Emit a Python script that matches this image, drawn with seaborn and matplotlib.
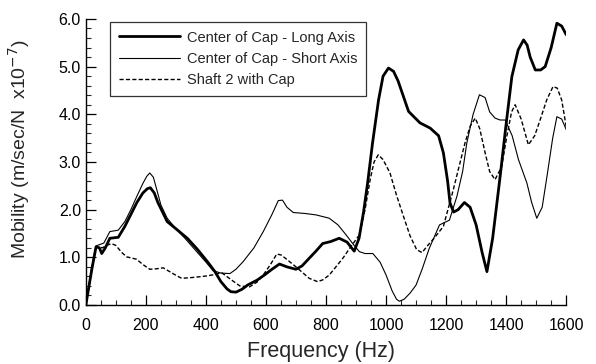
import matplotlib
matplotlib.use("Agg")
import matplotlib.pyplot as plt
import seaborn as sns
import numpy as np
from matplotlib.ticker import MultipleLocator

# Center of Cap - Long Axis
long_hz = [0, 20, 34, 45, 53, 65, 80, 108, 130, 150, 170, 190, 205, 215, 228, 240, 271, 300,
           338, 370, 405, 430, 450, 470, 483, 500, 520, 539, 570, 595, 620, 645, 670, 700,
           720, 744, 765, 789, 815, 844, 870, 885, 894, 910, 925, 939, 955, 975, 990, 1008,
           1025, 1040, 1075, 1113, 1147, 1175, 1191, 1205, 1213, 1225, 1240, 1261, 1280,
           1300, 1320, 1336, 1355, 1380, 1400, 1419, 1440, 1458, 1470, 1480, 1497, 1515,
           1530, 1550, 1569, 1585, 1600]
long_val = [0.0, 0.75, 1.22, 1.20, 1.08, 1.20, 1.40, 1.42, 1.65, 1.90, 2.15, 2.35, 2.44, 2.46,
            2.35, 2.15, 1.75, 1.60, 1.40, 1.18, 0.91, 0.70, 0.49, 0.34, 0.28, 0.27, 0.33, 0.42,
            0.52, 0.63, 0.75, 0.86, 0.80, 0.75, 0.82, 0.98, 1.12, 1.29, 1.33, 1.40, 1.32, 1.20,
            1.13, 1.40, 1.95, 2.58, 3.40, 4.30, 4.80, 4.97, 4.90, 4.70, 4.06, 3.82, 3.71,
            3.55, 3.19, 2.60, 2.14, 1.95, 2.00, 2.15, 2.05, 1.68, 1.10, 0.70, 1.40, 2.70,
            3.80, 4.79, 5.35, 5.56, 5.45, 5.20, 4.93, 4.93, 5.00, 5.40, 5.91, 5.85, 5.67]

# Center of Cap - Short Axis
short_hz = [0, 20, 34, 60, 80, 108, 130, 150, 170, 190, 203, 213, 225, 235, 250, 271, 300,
            330, 365, 400, 424, 450, 480, 500, 524, 560, 591, 620, 641, 655, 670, 691, 730,
            767, 811, 840, 867, 890, 911, 930, 956, 980, 1000, 1020, 1035, 1044, 1060, 1080,
            1100, 1120, 1144, 1178, 1211, 1236, 1255, 1269, 1290, 1311, 1330, 1345, 1363,
            1380, 1397, 1420, 1441, 1469, 1485, 1502, 1520, 1536, 1555, 1569, 1585, 1600]
short_val = [0.0, 0.80, 1.24, 1.30, 1.54, 1.57, 1.75, 2.00, 2.28, 2.55, 2.70, 2.77, 2.68, 2.45,
             2.10, 1.82, 1.60, 1.40, 1.15, 0.90, 0.72, 0.67, 0.66, 0.75, 0.91, 1.20, 1.54,
             1.90, 2.19, 2.20, 2.05, 1.94, 1.92, 1.89, 1.82, 1.68, 1.47, 1.28, 1.12, 1.08,
             1.08, 0.90, 0.63, 0.30, 0.12, 0.08, 0.12, 0.25, 0.42, 0.75, 1.19, 1.68, 1.78,
             2.28, 2.80, 3.40, 4.00, 4.41, 4.35, 4.05, 3.92, 3.88, 3.88, 3.55, 3.05, 2.56,
             2.15, 1.82, 2.05, 2.70, 3.50, 3.95, 3.90, 3.68]

# Shaft 2 with Cap
shaft_hz = [0, 20, 34, 55, 70, 85, 100, 120, 136, 150, 169, 190, 213, 235, 258, 290, 319,
            360, 402, 430, 452, 480, 513, 545, 570, 591, 615, 636, 650, 665, 700, 744, 772,
            790, 811, 856, 880, 911, 930, 947, 960, 974, 990, 1013, 1035, 1058, 1080, 1102,
            1120, 1136, 1160, 1191, 1224, 1245, 1263, 1280, 1297, 1312, 1330, 1345, 1363,
            1385, 1402, 1418, 1430, 1450, 1474, 1495, 1513, 1535, 1556, 1570, 1585, 1600]
shaft_val = [0.0, 0.75, 1.22, 1.20, 1.25, 1.29, 1.25, 1.10, 1.01, 0.99, 0.96, 0.85, 0.75, 0.76,
             0.78, 0.66, 0.56, 0.58, 0.61, 0.64, 0.68, 0.55, 0.40, 0.38, 0.48, 0.63, 0.85,
             1.07, 1.05, 0.98, 0.80, 0.56, 0.49, 0.53, 0.63, 0.98, 1.20, 1.47, 2.00, 2.63,
             3.00, 3.15, 3.05, 2.77, 2.30, 1.86, 1.45, 1.16, 1.10, 1.23, 1.40, 1.65, 2.42,
             2.95, 3.40, 3.75, 3.92, 3.70, 3.19, 2.80, 2.63, 2.90, 3.53, 4.05, 4.20, 3.90,
             3.36, 3.55, 3.88, 4.30, 4.58, 4.55, 4.30, 3.74]

x_ticks = [0, 200, 400, 600, 800, 1000, 1200, 1400, 1600]
y_ticks = [0.0, 1.0, 2.0, 3.0, 4.0, 5.0, 6.0]

sns.set_style("ticks")
plt.rcParams['font.family'] = ['Liberation Sans', 'DejaVu Sans']

fig = plt.figure(figsize=(5.96, 3.64), dpi=100)
ax = fig.add_axes([0.144, 0.162, 0.806, 0.786])

sns.lineplot(x=long_hz, y=long_val, ax=ax, color='black', linewidth=2.0,
             label='Center of Cap - Long Axis')
sns.lineplot(x=short_hz, y=short_val, ax=ax, color='black', linewidth=0.8,
             label='Center of Cap - Short Axis')
sns.lineplot(x=shaft_hz, y=shaft_val, ax=ax, color='black', linewidth=1.0,
             linestyle=(0, (3, 1.6)), label='Shaft 2 with Cap')

ax.set_xlim(0, 1600)
ax.set_ylim(0, 6.0)
ax.set_xticks(x_ticks)
ax.set_yticks(y_ticks)
ax.set_yticklabels([f"{v:.1f}" for v in y_ticks])
ax.xaxis.set_minor_locator(MultipleLocator(50))
ax.yaxis.set_minor_locator(MultipleLocator(0.2))
ax.tick_params(axis='both', which='major', direction='in', length=7, width=0.9,
               labelsize=11.5, colors='black')
ax.tick_params(axis='x', which='major', pad=9)
ax.tick_params(axis='both', which='minor', direction='in', length=3.5, width=0.8)
for s in ['top', 'right']:
    ax.spines[s].set_visible(False)
for s in ['left', 'bottom']:
    ax.spines[s].set_linewidth(1.0)
    ax.spines[s].set_color('black')

ax.set_xlabel('Frequency (Hz)', fontsize=15.5)
ax.set_ylabel('Mobility (m/sec/N  x10$^{-7}$)', fontsize=14)
ax.xaxis.set_label_coords(0.49, -0.125)
ax.yaxis.set_label_coords(-0.112, 0.545)

leg = ax.legend(loc='upper left', bbox_to_anchor=(0.05, 0.99), borderaxespad=0,
                fontsize=10.5, frameon=True, fancybox=False, edgecolor='black',
                handlelength=4.2, handletextpad=0.5, borderpad=0.6, labelspacing=0.5)
leg.get_frame().set_linewidth(0.9)

fig.savefig('out.png', dpi=100)
